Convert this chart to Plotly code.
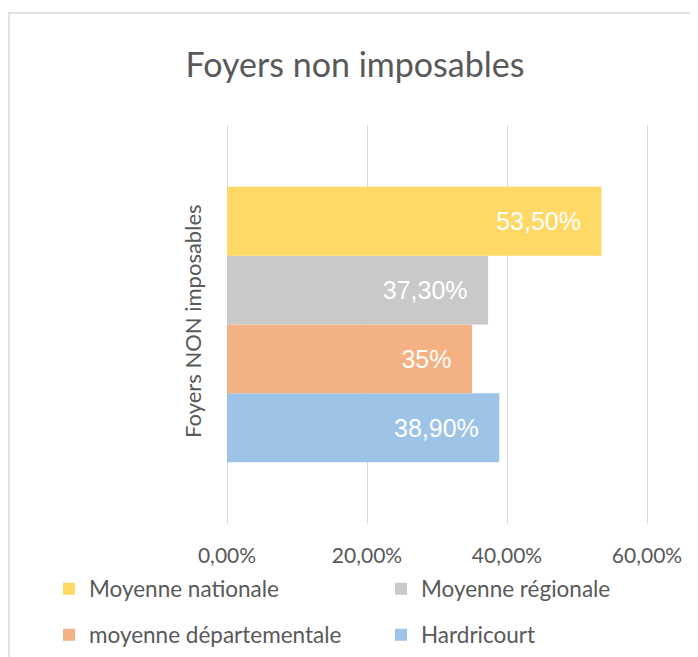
import plotly.graph_objects as go

category = ["Foyers NON imposables"]
series_names = ["Moyenne nationale", "Moyenne régionale", "moyenne départementale", "Hardricourt"]
series_values = [0.535, 0.373, 0.35, 0.389]
series_labels = ["53,50%", "37,30%", "35%", "38,90%"]
series_colors = ["#FFD966", "#C9C9C9", "#F4B183", "#9DC3E6"]
tick_values = [0, 0.2, 0.4, 0.6]
tick_labels = ["0,00%", "20,00%", "40,00%", "60,00%"]

# page has an 8px body margin: work in page pixels, convert to figure pixels
OFF = 8
W, H = 698 - OFF, 657 - OFF
X0, X60 = 227, 647          # page pixels of 0% and 60%
EXT = 5                     # extra px on each side so edge gridlines show
PL, PR, PT, PB = X0 - EXT, X60 + EXT, 125, 524
L, R, T, B = PL - OFF, W - (PR - OFF), PT - OFF, H - (PB - OFF)
pw, ph = W - L - R, H - T - B
ppu = (X60 - X0) / 0.6
xr = [-EXT / ppu, 0.6 + EXT / ppu]

def px(x):
    return (x - PL) / pw

def py(y):
    return (PB - y) / ph

def cx(x):
    return (x - OFF) / W

def cy(y):
    return 1 - (y - OFF) / H

legend_keys = ["legend", "legend2", "legend3", "legend4"]
legend_pos = [(49, 589), (381, 589), (49, 635), (381, 635)]  # page pixels

fig = go.Figure()
# add in reverse so the first series is drawn on top
for i in reversed(range(len(series_names))):
    fig.add_trace(go.Bar(
        name=series_names[i],
        y=category,
        x=[series_values[i]],
        orientation="h",
        marker=dict(color=series_colors[i], line=dict(width=0)),
        text=[series_labels[i]],
        texttemplate="%{text}\u2002\u2009",
        textposition="inside",
        insidetextanchor="end",
        insidetextfont=dict(color="white", size=25, family="Liberation Sans"),
        legend=legend_keys[i],
        showlegend=True,
        hoverinfo="skip",
    ))

legend_layout = {}
for key, (lx, ly) in zip(legend_keys, legend_pos):
    legend_layout[key] = dict(
        orientation="h",
        font=dict(family="Lato", size=22.5, color="#595959"),
        itemwidth=30,
        bgcolor="rgba(0,0,0,0)",
        xanchor="left",
        yanchor="middle",
        xref="container",
        yref="container",
        x=cx(lx),
        y=cy(ly),
    )

fig.update_layout(
    width=W,
    height=H,
    margin=dict(l=L, r=R, t=T, b=B, autoexpand=False),
    paper_bgcolor="white",
    plot_bgcolor="white",
    showlegend=True,
    barmode="group",
    bargap=0.31,
    bargroupgap=0,
    title=dict(
        text="Foyers non imposables",
        font=dict(family="Lato", size=34, color="#595959"),
        x=cx(355), xref="container", xanchor="center",
        y=cy(65), yref="container", yanchor="middle",
    ),
    xaxis=dict(
        range=xr,
        tickvals=tick_values,
        ticktext=tick_labels,
        showgrid=True,
        gridcolor="#D9D9D9",
        gridwidth=1.3,
        zeroline=False,
        showline=False,
        ticks="",
        ticklabelstandoff=17,
        tickfont=dict(family="Lato", size=21, color="#595959"),
    ),
    yaxis=dict(
        type="category",
        showgrid=False,
        zeroline=False,
        showline=False,
        ticks="",
        tickangle=-90,
        ticklabelstandoff=16,
        tickfont=dict(family="Lato", size=22, color="#595959"),
    ),
    shapes=[dict(
        type="rect", xref="paper", yref="paper",
        x0=px(9), x1=px(720), y0=py(680), y1=py(13),
        line=dict(color="#D9D9D9", width=1.5),
        fillcolor="rgba(0,0,0,0)",
        layer="below",
    )],
    **legend_layout,
)

fig.write_html("out.html")
